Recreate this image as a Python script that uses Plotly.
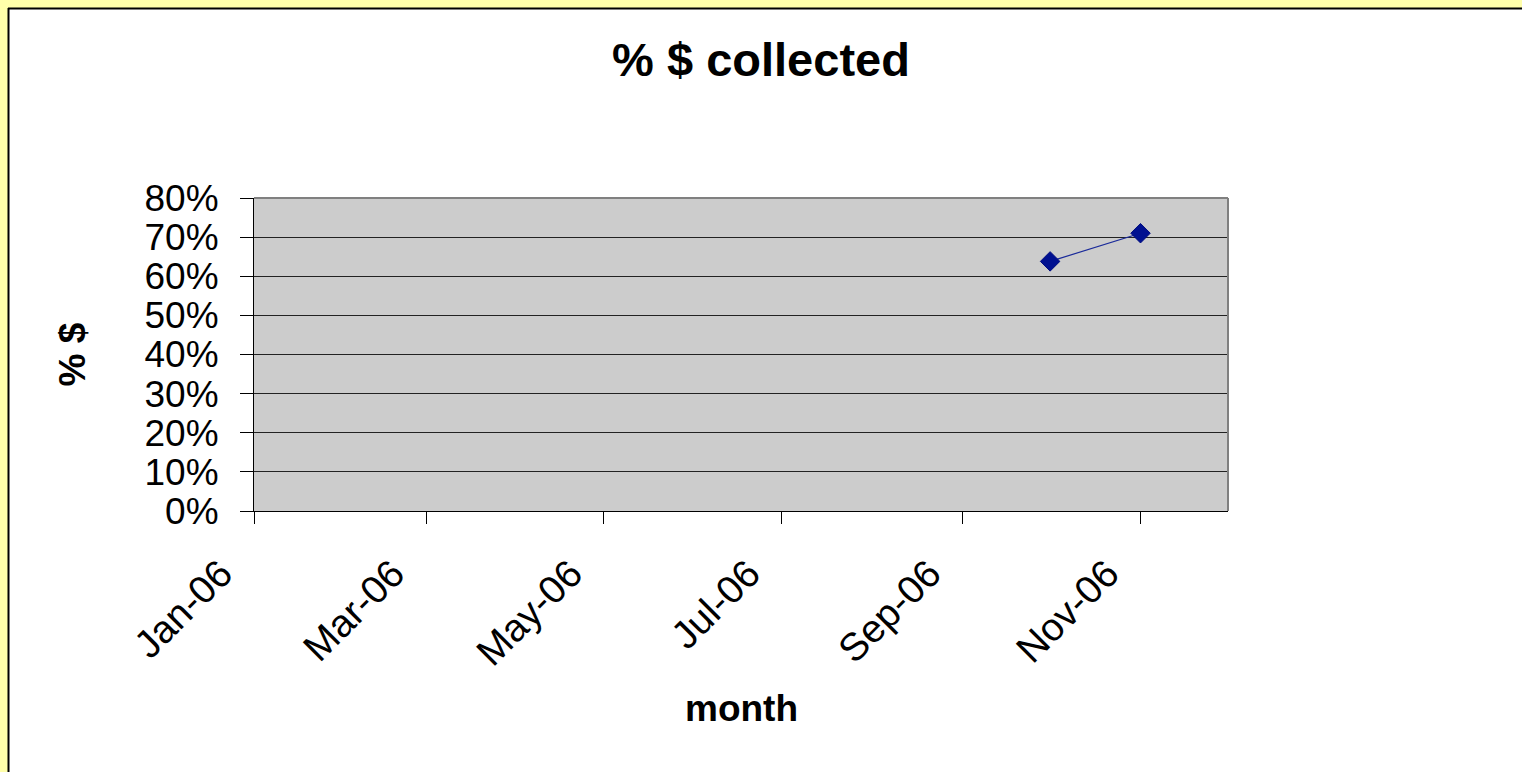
import plotly.graph_objects as go

# Data
months = ["2006-10-01", "2006-11-01"]
pct_collected = [0.638, 0.710]

tick_dates = ["2006-01-01", "2006-03-01", "2006-05-01", "2006-07-01", "2006-09-01", "2006-11-01"]
tick_labels = ["Jan-06", "Mar-06", "May-06", "Jul-06", "Sep-06", "Nov-06"]
y_ticks = [0, 0.1, 0.2, 0.3, 0.4, 0.5, 0.6, 0.7, 0.8]
y_labels = ["0%", "10%", "20%", "30%", "40%", "50%", "60%", "70%", "80%"]

W, H = 1522, 772
L, R, T, B = 254, 294, 198, 261
PW, PH = W - L - R, H - T - B

def px_x(p):
    return (p - L) / PW

def px_y(p):
    return (H - B - p) / PH

FONT = "Liberation Sans, Arial, sans-serif"

fig = go.Figure()
fig.add_trace(go.Scatter(
    x=months, y=pct_collected, mode="lines+markers",
    line=dict(color="#1a2a9a", width=1.2),
    marker=dict(symbol="diamond", size=15, color="#001090",
                line=dict(color="#000c80", width=1)),
    showlegend=False,
))

shapes = [
    # yellow strips top & left
    dict(type="rect", xref="paper", yref="paper", x0=px_x(-5), x1=px_x(W + 5), y0=px_y(8), y1=px_y(-5),
         fillcolor="#FFFFAA", line=dict(width=0), layer="above"),
    dict(type="rect", xref="paper", yref="paper", x0=px_x(-5), x1=px_x(8), y0=px_y(H + 5), y1=px_y(-5),
         fillcolor="#FFFFAA", line=dict(width=0), layer="above"),
    # black border lines
    dict(type="line", xref="paper", yref="paper", x0=px_x(8), x1=px_x(W + 5), y0=px_y(8.5), y1=px_y(8.5),
         line=dict(color="black", width=2), layer="above"),
    dict(type="line", xref="paper", yref="paper", x0=px_x(8.5), x1=px_x(8.5), y0=px_y(8), y1=px_y(H + 5),
         line=dict(color="black", width=2), layer="above"),
    # plot area gray border top & right
    dict(type="line", xref="paper", yref="paper", x0=0, x1=1, y0=1, y1=1,
         line=dict(color="#808080", width=2), layer="above"),
    dict(type="line", xref="paper", yref="paper", x0=1, x1=1, y0=0, y1=1,
         line=dict(color="#808080", width=2), layer="above"),
]

annotations = [
    dict(text="<b>month</b>", xref="paper", yref="paper", x=0.5, y=px_y(708),
         xanchor="center", yanchor="middle", showarrow=False,
         font=dict(family=FONT, size=37, color="black")),
    dict(text="<b>% $</b>", xref="paper", yref="paper", x=px_x(72), y=0.5,
         xanchor="center", yanchor="middle", showarrow=False, textangle=-90,
         font=dict(family=FONT, size=37, color="black")),
]

fig.update_layout(
    width=W, height=H,
    margin=dict(l=L, r=R, t=T, b=B, pad=0),
    paper_bgcolor="white",
    plot_bgcolor="#CCCCCC",
    title=dict(text="<b>% $ collected</b>", x=0.5, xref="container", xanchor="center",
               y=1 - 60 / H, yref="container", yanchor="middle",
               font=dict(family=FONT, size=47, color="black")),
    font=dict(family=FONT, size=37, color="black"),
    shapes=shapes,
    annotations=annotations,
    xaxis=dict(
        type="date", range=["2006-01-01", "2006-12-01"],
        tickvals=tick_dates, ticktext=tick_labels, tickangle=-45,
        ticks="outside", ticklen=12, tickcolor="black", tickwidth=1,
        showline=True, linecolor="black", linewidth=1,
        showgrid=False, zeroline=False,
        tickfont=dict(family=FONT, size=39),
        ticklabelstandoff=11, ticklabelshift=-33,
    ),
    yaxis=dict(
        range=[0, 0.8], tickvals=y_ticks, ticktext=y_labels,
        ticks="outside", ticklen=13, tickcolor="black", tickwidth=1,
        showline=True, linecolor="black", linewidth=1,
        showgrid=True, gridcolor="#222222", gridwidth=1,
        zeroline=False,
        tickfont=dict(family=FONT, size=37),
        ticklabelstandoff=14,
    ),
)

fig.write_html("out.html")
